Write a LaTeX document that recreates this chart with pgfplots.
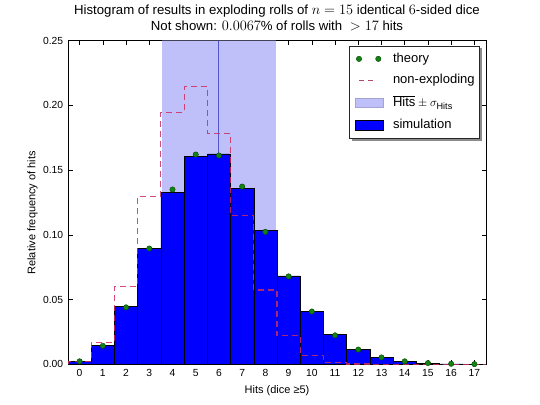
\documentclass[border=0pt]{standalone}
\usepackage[no-math]{fontspec}
\setmainfont{Liberation Sans}
\usepackage{amsmath}
\usepackage{pgfplots}
\pgfplotsset{compat=1.18}
\usetikzlibrary{backgrounds}
\definecolor{bandcol}{RGB}{191,191,250}
\definecolor{meancol}{RGB}{85,85,205}
\definecolor{dashcol}{RGB}{205,45,95}
\definecolor{thcol}{RGB}{20,130,20}
\definecolor{thedge}{RGB}{0,70,0}
\begin{document}
\begin{tikzpicture}
\useasboundingbox (0,0) rectangle (540bp,405bp);
\begin{axis}[
  at={(68bp,40.7bp)}, anchor=south west,
  width=418bp, height=323.6bp, scale only axis,
  xmin=-0.5, xmax=17.5, ymin=0, ymax=0.25,
  xtick={0,1,2,3,4,5,6,7,8,9,10,11,12,13,14,15,16,17},
  ytick={0,0.05,0.10,0.15,0.20,0.25},
  /pgf/number format/assume math mode=true,
  yticklabel style={/pgf/number format/fixed, /pgf/number format/fixed zerofill, /pgf/number format/precision=2, xshift=-4.7bp},
  ticklabel style={font=\fontsize{10.3bp}{12bp}\selectfont, inner sep=0pt},
  xticklabel style={yshift=-5bp},
  tick align=inside, major tick length=4.5bp,
  tick style={black, line width=0.6bp},
  axis line style={black, line width=0.8bp},
  title={Histogram of results in exploding rolls of $n=15$ identical $6$-sided dice\\Not shown: $0.0067$\% of rolls with $\;>17$ hits},
  title style={align=center, font=\fontsize{13.2bp}{16bp}\selectfont, at={(axis description cs:0.5,1)}, anchor=south, inner sep=0pt, yshift=3.5bp},
  xlabel={Hits (dice ≥5)},
  xlabel style={font=\fontsize{11bp}{13bp}\selectfont, at={(axis description cs:0.5,-0.0896)}, anchor=base, inner sep=0pt},
  ylabel={Relative frequency of hits},
  ylabel style={font=\fontsize{11bp}{13bp}\selectfont, at={(axis description cs:-0.085,0.468)}, anchor=center, inner sep=0pt},
  legend cell align=left,
  legend style={name=leg, at={(axis description cs:0.9856,0.985)}, anchor=north east,
    draw=black!85, line width=0.6bp, fill=white,
    font=\fontsize{13bp}{15bp}\selectfont,
    inner xsep=5bp, inner ysep=6.8bp, row sep=8.8bp,
    nodes={inner sep=0pt, text depth=3bp}},
]
% mean +/- sigma band
\addplot[draw=none, fill=bandcol, forget plot] coordinates {(3.551,0) (3.551,0.25) (8.449,0.25) (8.449,0)} \closedcycle;
% mean line
\addplot[meancol, line width=1bp, forget plot] coordinates {(6,0) (6,0.25)};
% simulation bars
\addplot[ybar, bar width=1, fill=blue, draw=black, line width=0.5bp, forget plot] coordinates {
(0,0.0022) (1,0.0144) (2,0.0450) (3,0.0896) (4,0.1329) (5,0.1607) (6,0.1625) (7,0.1360) (8,0.1032)
(9,0.0684) (10,0.0406) (11,0.0230) (12,0.0116) (13,0.0054) (14,0.0022) (15,0.0009) (16,0.0004) (17,0.0002)};
% non-exploding (binomial) step outline
\addplot[const plot, dashcol, opacity=0.85, line width=1.1bp, dash pattern=on 6bp off 4bp, forget plot] coordinates {
(-0.5,0) (-0.5,0.00228) (0.5,0.01713) (1.5,0.05995) (2.5,0.1299) (3.5,0.1948) (4.5,0.2143) (5.5,0.1786)
(6.5,0.1148) (7.5,0.0574) (8.5,0.0223) (9.5,0.0067) (10.5,0.00152) (11.5,0.00025) (12.5,0.00003)
(13.5,0) (14.5,0) (15.5,0) (16.5,0) (17.5,0)};
% theory
\addplot[only marks, mark=*, mark size=2.7bp, mark options={fill=thcol, draw=thedge, line width=0.4bp}, forget plot] coordinates {
(0,0.00228) (1,0.01427) (2,0.04400) (3,0.08943) (4,0.13506) (5,0.16206) (6,0.16131) (7,0.13733) (8,0.10231)
(9,0.06792) (10,0.04077) (11,0.02239) (12,0.01137) (13,0.0053) (14,0.0023) (15,0.00095) (16,0.00037) (17,0.00014)};
% legend
\addlegendimage{legend image code/.code={
  \path[draw=none, fill=none] (0bp,0bp) -- (38bp,0bp);
  \draw[thedge, fill=thcol, line width=0.4bp] (4bp,0) circle (2.7bp);
  \draw[thedge, fill=thcol, line width=0.4bp] (23.3bp,0) circle (2.7bp);}}
\addlegendentry{theory}
\addlegendimage{legend image code/.code={
  \path[draw=none, fill=none] (0bp,0bp) -- (38bp,0bp);
  \draw[dashcol!70!gray, line width=1bp, dash pattern=on 5bp off 4bp] (4bp,0) -- (22bp,0);}}
\addlegendentry{non-exploding}
\addlegendimage{legend image code/.code={
  \path[draw=none, fill=none] (0bp,0bp) -- (38bp,0bp);
  \draw[fill=bandcol, draw=bandcol!85!black, line width=0.4bp] (0bp,-4.7bp) rectangle (28bp,4.7bp);}}
\addlegendentry{$\overline{\text{Hits}}\pm\sigma_{\text{Hits}}$}
\addlegendimage{legend image code/.code={
  \path[draw=none, fill=none] (0bp,0bp) -- (38bp,0bp);
  \draw[fill=blue, draw=black, line width=0.6bp] (0bp,-5bp) rectangle (28bp,5bp);}}
\addlegendentry{simulation}
\end{axis}
\begin{pgfonlayer}{background}
\fill[black!45] ([xshift=2.5bp,yshift=-2.5bp]leg.south west) rectangle ([xshift=2.5bp,yshift=-2.5bp]leg.north east);
\end{pgfonlayer}
\end{tikzpicture}
\end{document}
